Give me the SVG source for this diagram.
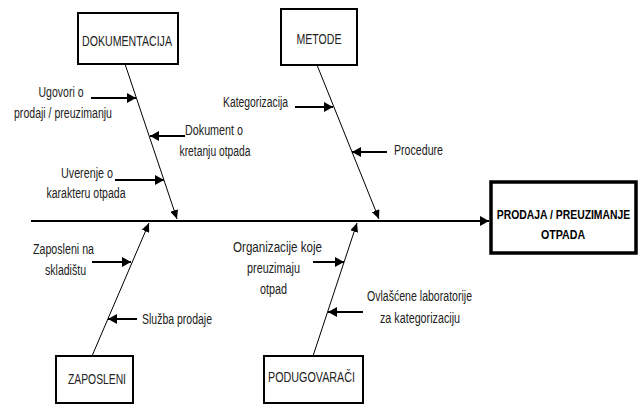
<svg xmlns="http://www.w3.org/2000/svg" width="640" height="405" viewBox="0 0 640 405">
<defs>
<style>
.box{fill:#fff;stroke:#000;stroke-width:2}
.main{fill:#fff;stroke:#000;stroke-width:3.5}
.t{font-family:"Liberation Sans",Arial,sans-serif;font-size:14px;fill:#222;text-anchor:middle}
.tb{font-family:"Liberation Sans",Arial,sans-serif;font-size:13.5px;font-weight:bold;fill:#000;text-anchor:middle}
.bone{stroke:#000;stroke-width:1;fill:none}
.spine{stroke:#000;stroke-width:2;fill:none}
.sub{stroke:#000;stroke-width:2;fill:none}
</style>
<marker id="ah" markerUnits="userSpaceOnUse" markerWidth="10" markerHeight="10" refX="9" refY="5" orient="auto">
<path d="M0,0 L9,5 L0,10 z" fill="#000"/>
</marker>
<marker id="ahs" markerUnits="userSpaceOnUse" markerWidth="10" markerHeight="8" refX="9" refY="4" orient="auto">
<path d="M0,0 L9,4 L0,8 z" fill="#000"/>
</marker>
</defs>
<g id="connectors">
<line class="spine" x1="31" y1="221" x2="489" y2="221" marker-end="url(#ah)"/>
<line class="bone" x1="125" y1="64" x2="177" y2="219" marker-end="url(#ahs)"/>
<line class="bone" x1="317" y1="65" x2="379" y2="219" marker-end="url(#ahs)"/>
<line class="bone" x1="92" y1="356" x2="149" y2="223" marker-end="url(#ahs)"/>
<line class="bone" x1="313" y1="356" x2="357" y2="223" marker-end="url(#ahs)"/>
<line class="sub" x1="91" y1="98" x2="136" y2="98" marker-end="url(#ah)"/>
<line class="sub" x1="185" y1="136" x2="150" y2="136" marker-end="url(#ah)"/>
<line class="sub" x1="115" y1="180" x2="164" y2="180" marker-end="url(#ah)"/>
<line class="sub" x1="295" y1="107" x2="333" y2="107" marker-end="url(#ah)"/>
<line class="sub" x1="387" y1="152" x2="352" y2="152" marker-end="url(#ah)"/>
<line class="sub" x1="92" y1="262" x2="131" y2="262" marker-end="url(#ah)"/>
<line class="sub" x1="137" y1="319" x2="108" y2="319" marker-end="url(#ah)"/>
<line class="sub" x1="313" y1="262" x2="344" y2="262" marker-end="url(#ah)"/>
<line class="sub" x1="363" y1="312" x2="328" y2="312" marker-end="url(#ah)"/>
</g>
<g id="dokumentacija">
<rect class="box" x="78" y="13" width="100" height="51"/>
<text class="t" x="127" y="46" textLength="90" lengthAdjust="spacingAndGlyphs">DOKUMENTACIJA</text>
</g>
<g id="metode">
<rect class="box" x="281" y="9" width="76" height="56"/>
<text class="t" x="319" y="44" textLength="45" lengthAdjust="spacingAndGlyphs">METODE</text>
</g>
<g id="zaposleni">
<rect class="box" x="56" y="356" width="77" height="47"/>
<text class="t" x="97" y="384" textLength="58" lengthAdjust="spacingAndGlyphs">ZAPOSLENI</text>
</g>
<g id="podugovaraci">
<rect class="box" x="264" y="356" width="99" height="47"/>
<text class="t" x="311.5" y="382" textLength="87" lengthAdjust="spacingAndGlyphs">PODUGOVARAČI</text>
</g>
<g id="result">
<rect class="main" x="491" y="182" width="145" height="71"/>
<text class="tb" transform="translate(563.5,219) scale(0.77,1)">PRODAJA / PREUZIMANJE</text>
<text class="tb" transform="translate(563,239) scale(0.79,1)">OTPADA</text>
</g>
<g id="labels">
<text class="t" x="61" y="97" textLength="45" lengthAdjust="spacingAndGlyphs">Ugovori o</text>
<text class="t" x="63" y="118" textLength="98" lengthAdjust="spacingAndGlyphs">prodaji / preuzimanju</text>
<text class="t" x="214" y="135" textLength="58" lengthAdjust="spacingAndGlyphs">Dokument o</text>
<text class="t" x="215" y="156" textLength="71" lengthAdjust="spacingAndGlyphs">kretanju otpada</text>
<text class="t" x="87" y="178" textLength="52" lengthAdjust="spacingAndGlyphs">Uverenje o</text>
<text class="t" x="86" y="198" textLength="79" lengthAdjust="spacingAndGlyphs">karakteru otpada</text>
<text class="t" x="255.5" y="107" textLength="65" lengthAdjust="spacingAndGlyphs">Kategorizacija</text>
<text class="t" x="418.5" y="155" textLength="49" lengthAdjust="spacingAndGlyphs">Procedure</text>
<text class="t" x="63.5" y="254" textLength="61" lengthAdjust="spacingAndGlyphs">Zaposleni na</text>
<text class="t" x="65.5" y="275" textLength="41" lengthAdjust="spacingAndGlyphs">skladištu</text>
<text class="t" x="177" y="324" textLength="70" lengthAdjust="spacingAndGlyphs">Služba prodaje</text>
<text class="t" x="277.5" y="252" textLength="89" lengthAdjust="spacingAndGlyphs">Organizacije koje</text>
<text class="t" x="273.5" y="273" textLength="53" lengthAdjust="spacingAndGlyphs">preuzimaju</text>
<text class="t" x="273.5" y="294" textLength="27" lengthAdjust="spacingAndGlyphs">otpad</text>
<text class="t" x="419.5" y="301" textLength="105" lengthAdjust="spacingAndGlyphs">Ovlašćene laboratorije</text>
<text class="t" x="420" y="323" textLength="80" lengthAdjust="spacingAndGlyphs">za kategorizaciju</text>
</g>
</svg>
